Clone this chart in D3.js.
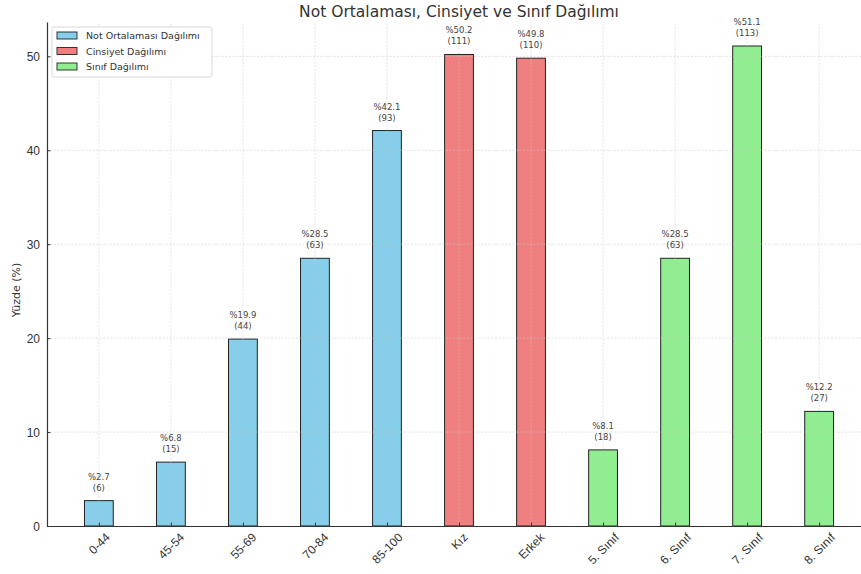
<!DOCTYPE html>
<html>
<head>
<meta charset="utf-8">
<script src="https://cdn.jsdelivr.net/npm/d3@7"></script>
<style>
  body { margin: 0; background: #fff; }
  svg { font-family: "DejaVu Sans", sans-serif; }
</style>
</head>
<body>
<svg width="861" height="574"></svg>
<script>
// data
var categories = ["0-44", "45-54", "55-69", "70-84", "85-100", "Kız", "Erkek", "5. Sınıf", "6. Sınıf", "7. Sınıf", "8. Sınıf"];
var percents = [2.7, 6.8, 19.9, 28.5, 42.1, 50.2, 49.8, 8.1, 28.5, 51.1, 12.2];
var counts = [6, 15, 44, 63, 93, 111, 110, 18, 63, 113, 27];
var groups = [0, 0, 0, 0, 0, 1, 1, 2, 2, 2, 2];
var groupNames = ["Not Ortalaması Dağılımı", "Cinsiyet Dağılımı", "Sınıf Dağılımı"];
var groupColors = ["#87CEEB", "#F08080", "#90EE90"];
var yTicks = [0, 10, 20, 30, 40, 50];

var svg = d3.select("svg"),
    margin = {left: 47, top: 22, bottom: 48},
    height = 574;

// bar slot index -> pixel, continuous like matplotlib
var x = d3.scaleLinear().domain([-0.72, 10.72]).range([margin.left, 871]);
var y = d3.scaleLinear().domain([0, 53.655]).range([526, margin.top]);
var barW = x(0.4) - x(0);

var data = categories.map(function(c, i) {
  return {cat: c, pct: percents[i], n: counts[i], g: groups[i], i: i};
});

// bars
svg.append("g")
  .selectAll("rect")
  .data(data)
  .join("rect")
    .attr("x", d => x(d.i) - barW / 2)
    .attr("y", d => y(d.pct))
    .attr("width", barW)
    .attr("height", d => y(0) - y(d.pct))
    .attr("fill", d => groupColors[d.g])
    .attr("stroke", "#222")
    .attr("stroke-width", 1);

// grid (drawn over the bars, faint)
var grid = svg.append("g")
    .attr("stroke", "#c4c4c4")
    .attr("stroke-opacity", 0.7)
    .attr("stroke-width", 0.7)
    .attr("stroke-dasharray", "2,1.5");
grid.selectAll("line.h")
  .data(yTicks.slice(1))
  .join("line")
    .attr("class", "h")
    .attr("x1", margin.left).attr("x2", 861)
    .attr("y1", d => y(d)).attr("y2", d => y(d));
grid.selectAll("line.v")
  .data(data)
  .join("line")
    .attr("class", "v")
    .attr("x1", d => x(d.i)).attr("x2", d => x(d.i))
    .attr("y1", y(0)).attr("y2", margin.top);

// axes
var yAxis = svg.append("g")
    .attr("transform", "translate(" + margin.left + ",0)")
    .call(d3.axisLeft(y).tickValues(yTicks).tickSizeInner(-3.5).tickSizeOuter(0).tickPadding(7));
var xAxis = svg.append("g")
    .attr("transform", "translate(0," + y(0) + ")")
    .call(d3.axisBottom(x).tickValues(d3.range(categories.length)).tickFormat(i => categories[i])
      .tickSizeInner(-3.5).tickSizeOuter(0));

[yAxis, xAxis].forEach(function(a) {
  a.select(".domain").attr("stroke", "#333").attr("stroke-width", 1.2);
  a.selectAll(".tick line").attr("stroke", "#333");
  a.selectAll("text").attr("fill", "#333").style("font-size", "12px");
});
yAxis.selectAll("text").attr("dy", "0.35em");

// rotated x labels, centered under tick like matplotlib rotation=45
xAxis.selectAll(".tick text").each(function() {
  var t = d3.select(this);
  var w = this.getComputedTextLength();
  var h = 12;
  var bh = (w + h) * Math.SQRT1_2;
  t.attr("y", null).attr("dy", null)
    .attr("text-anchor", "middle")
    .attr("dominant-baseline", "central")
    .attr("transform", "translate(0," + (5 + bh / 2) + ") rotate(-45)");
});

// value labels
var labels = svg.append("g")
    .attr("fill", "#444")
    .attr("font-size", "8.5px")
    .attr("text-anchor", "middle");
labels.selectAll("text.p")
  .data(data)
  .join("text")
    .attr("class", "p")
    .attr("x", d => x(d.i))
    .attr("y", d => y(d.pct) - 21)
    .text(d => "%" + d.pct.toFixed(1));
labels.selectAll("text.n")
  .data(data)
  .join("text")
    .attr("class", "n")
    .attr("x", d => x(d.i))
    .attr("y", d => y(d.pct) - 10)
    .text(d => "(" + d.n + ")");

// title and y label
svg.append("text")
    .attr("x", x(5))
    .attr("y", 17)
    .attr("text-anchor", "middle")
    .attr("fill", "#333")
    .attr("font-size", "15.5px")
    .text("Not Ortalaması, Cinsiyet ve Sınıf Dağılımı");

svg.append("text")
    .attr("transform", "translate(20,290) rotate(-90)")
    .attr("text-anchor", "middle")
    .attr("fill", "#333")
    .attr("font-size", "11px")
    .text("Yüzde (%)");

// legend
var lg = svg.append("g").attr("transform", "translate(52,27)");
lg.append("rect")
    .attr("width", 160).attr("height", 50)
    .attr("rx", 2)
    .attr("fill", "#fff").attr("fill-opacity", 0.85)
    .attr("stroke", "#d8d8d8");
var items = lg.selectAll("g")
  .data(groupNames)
  .join("g")
    .attr("transform", (d, i) => "translate(5," + (5 + i * 15.5) + ")");
items.append("rect")
    .attr("width", 20).attr("height", 7)
    .attr("fill", (d, i) => groupColors[i])
    .attr("stroke", "#222").attr("stroke-width", 0.9);
items.append("text")
    .attr("x", 29).attr("y", 3.5)
    .attr("dominant-baseline", "central")
    .attr("fill", "#333")
    .attr("font-size", "9.5px")
    .text(d => d);
</script>
</body>
</html>
